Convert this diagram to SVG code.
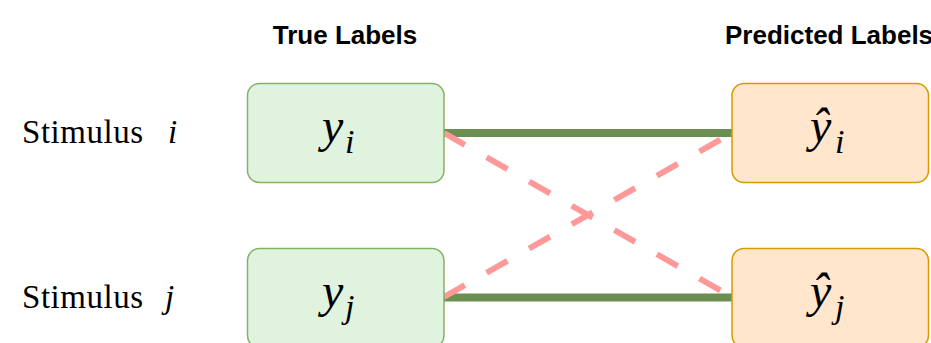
<svg xmlns="http://www.w3.org/2000/svg" width="931" height="343" viewBox="0 0 931 343">
<style>
.hdr{font-family:"Liberation Sans",Arial,sans-serif;font-weight:bold;font-size:26px;fill:#000}
.stim{font-family:"Liberation Serif","Times New Roman",serif;font-size:33px;fill:#000}
.it{font-style:italic}
.math{font-family:"Liberation Serif","Times New Roman",serif;font-style:italic;fill:#000}
.big{font-size:48px}
.sub{font-size:34px}
.tru{fill:#e0f3de;stroke:#82b366;stroke-width:1.5}
.pred{fill:#ffe6cc;stroke:#d79b00;stroke-width:1.5}
.ok{stroke:#6a8f50;stroke-width:8;fill:none}
.bad{stroke:#ff9999;stroke-width:6;fill:none;stroke-dasharray:24 25}
</style>
<rect width="931" height="343" fill="#fff"/>
<text class="hdr" x="345" y="44" text-anchor="middle">True Labels</text>
<text class="hdr" x="725" y="44">Predicted Labels</text>
<g id="stim-i"><text class="stim" x="22" y="143" textLength="121" lengthAdjust="spacing">Stimulus</text><text class="stim it" x="168" y="143">i</text></g>
<g id="stim-j"><text class="stim" x="22" y="308" textLength="121" lengthAdjust="spacing">Stimulus</text><text class="stim it" x="165" y="308">j</text></g>
<g id="connectors">
<line class="ok" x1="444" y1="133" x2="732" y2="133"/>
<line class="ok" x1="444" y1="297.5" x2="732" y2="297.5"/>
<line class="bad" x1="444" y1="133" x2="732" y2="297"/>
<line class="bad" x1="444" y1="297" x2="732" y2="133"/>
</g>
<g id="true-i">
<rect class="tru" x="247.5" y="83.5" width="196.5" height="99" rx="12"/>
<text class="math big" x="322" y="142">y</text><text class="math sub" x="345" y="153">i</text>
</g>
<g id="true-j">
<rect class="tru" x="247.5" y="248.5" width="196.5" height="99" rx="12"/>
<text class="math big" x="322" y="307">y</text><text class="math sub" x="345" y="318">j</text>
</g>
<g id="pred-i">
<rect class="pred" x="732" y="83.5" width="196.5" height="99" rx="12"/>
<text class="math big" x="810" y="142">ŷ</text><text class="math sub" x="835" y="153">i</text>
</g>
<g id="pred-j">
<rect class="pred" x="732" y="248.5" width="196.5" height="99" rx="12"/>
<text class="math big" x="810" y="307">ŷ</text><text class="math sub" x="835" y="318">j</text>
</g>
</svg>
